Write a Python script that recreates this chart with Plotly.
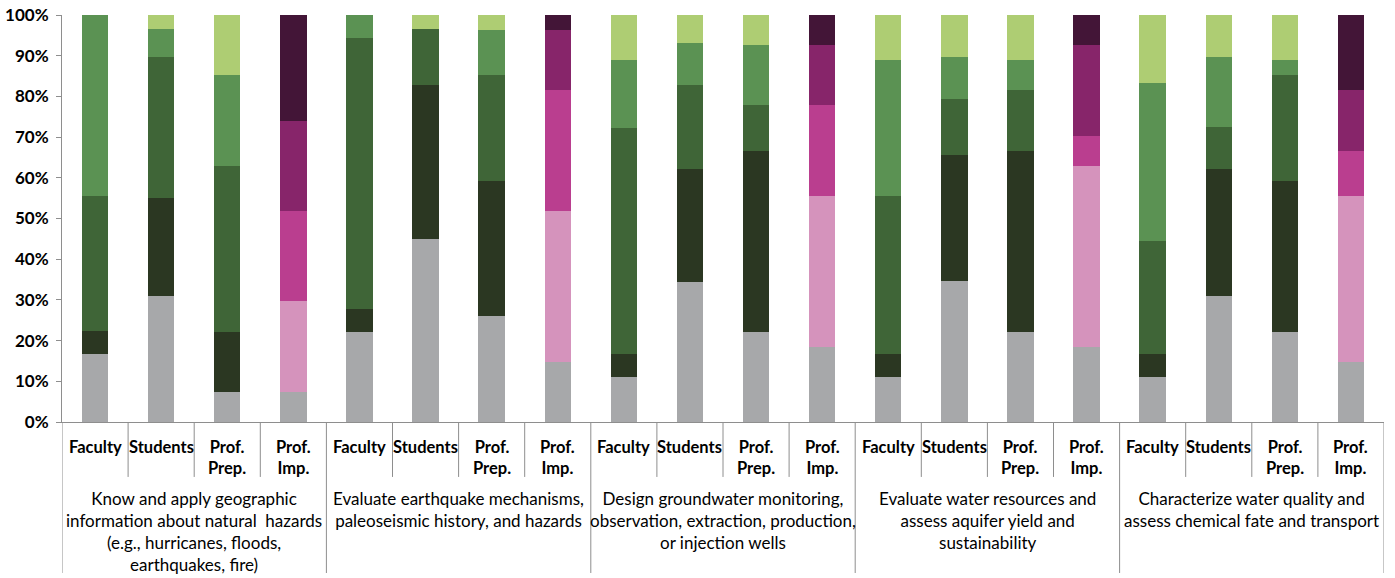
import plotly.graph_objects as go

# ---------------- data ----------------
groups = [
    "Know and apply geographic<br>information about natural  hazards<br>(e.g., hurricanes, floods,<br>earthquakes, fire)",
    "Evaluate earthquake mechanisms,<br>paleoseismic history, and hazards",
    "Design groundwater monitoring,<br>observation, extraction, production,<br>or injection wells",
    "Evaluate water resources and<br>assess aquifer yield and<br>sustainability",
    "Characterize water quality and<br>assess chemical fate and transport",
]
subgroups = ["Faculty", "Students", "Prof.<br>Prep.", "Prof.<br>Imp."]

level1 = [16.7, 31.0, 7.4, 7.4, 22.2, 44.8, 25.9, 14.8, 11.1, 34.5, 22.2, 18.5,
          11.1, 34.5, 22.2, 18.5, 11.1, 31.0, 22.2, 14.8]
level2 = [5.6, 24.1, 14.8, 22.2, 5.6, 37.9, 33.3, 37.0, 5.6, 27.6, 44.4, 37.0,
          5.6, 31.0, 44.4, 44.4, 5.6, 31.0, 37.0, 40.7]
level3 = [33.3, 34.5, 40.7, 22.2, 66.7, 13.8, 25.9, 29.6, 55.6, 20.7, 11.1, 22.2,
          38.9, 13.8, 14.8, 7.4, 27.8, 10.3, 25.9, 11.1]
level4 = [44.4, 6.9, 22.2, 22.2, 5.6, 0.0, 11.1, 14.8, 16.7, 10.3, 14.8, 14.8,
          33.3, 10.3, 7.4, 22.2, 38.9, 17.2, 3.7, 14.8]
level5 = [0.0, 3.4, 14.8, 25.9, 0.0, 3.4, 3.7, 3.7, 11.1, 6.9, 7.4, 7.4,
          11.1, 10.3, 11.1, 7.4, 16.7, 10.3, 11.1, 18.5]

y_ticks = list(range(0, 101, 10))
y_tick_labels = [f"{v}%" for v in y_ticks]

# ---------------- styles ----------------
green_colors = ["#A7A8AA", "#2B3722", "#3F6537", "#5B9253", "#AECD73"]
pink_colors = ["#A7A8AA", "#D593BC", "#BA3E8F", "#87256A", "#431537"]
FONT = "Lato, 'Open Sans', sans-serif"
AX = "#8E8E8E"

n_sub = len(subgroups)
n_bars = len(groups) * n_sub
xs = list(range(n_bars))
is_imp = [(i % n_sub) == n_sub - 1 for i in xs]

levels = [level1, level2, level3, level4, level5]

fig = go.Figure()
for k, vals in enumerate(levels):
    cols = [pink_colors[k] if imp else green_colors[k] for imp in is_imp]
    fig.add_trace(go.Bar(
        x=xs, y=vals, width=0.4,
        marker=dict(color=cols, line=dict(width=0)),
        name=f"Level {k+1}", showlegend=False,
        hoverinfo="y",
    ))

fig.update_layout(
    barmode="stack", barnorm="percent",
    width=1395, height=578,
    margin=dict(l=62, r=11, t=15, b=156),
    plot_bgcolor="white", paper_bgcolor="white",
    font=dict(family=FONT, color="#000000"),
    showlegend=False,
)
fig.update_yaxes(
    range=[0, 100], tickmode="array", tickvals=y_ticks, ticktext=y_tick_labels,
    showgrid=False, zeroline=False, automargin=False,
    showline=True, linecolor=AX, linewidth=1,
    ticks="outside", ticklen=5, tickcolor=AX,
    ticklabelstandoff=4, ticklabeloverflow="allow",
    tickfont=dict(family=FONT, size=17, color="#000000", weight="bold"),
)
fig.update_xaxes(
    range=[-0.5, n_bars - 0.5], automargin=False,
    showticklabels=False, showgrid=False, zeroline=False,
    showline=True, linecolor=AX, linewidth=1, ticks="",
)

# sub-category labels
for i in xs:
    fig.add_annotation(
        x=i, y=-0.032, xref="x", yref="paper",
        text=f"<b>{subgroups[i % n_sub]}</b>", showarrow=False,
        xanchor="center", yanchor="top",
        font=dict(family=FONT, size=16.5, color="#000000"),
    )

# group labels
for g, label in enumerate(groups):
    fig.add_annotation(
        x=g * n_sub + (n_sub - 1) / 2, y=-0.157, xref="x", yref="paper",
        text=label, showarrow=False, xanchor="center", yanchor="top",
        font=dict(family=FONT, size=17, color="#000000"),
    )

# divider lines below the axis
for b in range(n_bars + 1):
    xb = b - 0.5
    long = (b % n_sub) == 0
    fig.add_shape(
        type="line", xref="x", yref="paper",
        x0=xb, x1=xb, y0=0, y1=(-0.371 if long else -0.135),
        line=dict(color=AX, width=1),
    )

fig.write_html(
    "out.html",
    config={"displayModeBar": False},
    post_script="document.body.style.margin='0px';",
)
